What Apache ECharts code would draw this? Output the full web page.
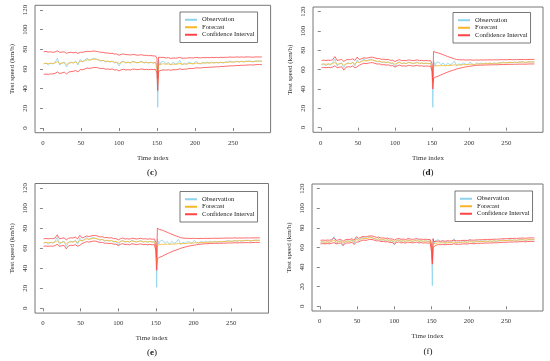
<!DOCTYPE html>
<html><head><meta charset="utf-8">
<script src="https://cdn.jsdelivr.net/npm/echarts@6/dist/echarts.min.js"></script>
<style>html,body{margin:0;padding:0;background:#fff}#chart{width:550px;height:361px}</style>
</head><body><div id="chart"></div>
<script>
const timeIndex = [1,4,7,10,13,16,19,22,25,28,31,34,37,40,43,46,49,52,55,58,61,64,67,70,73,76,79,82,85,88,91,94,97,100,103,106,109,112,115,118,121,124,127,130,133,136,139,142,145,
148,149,150,151,152,153,154,155,156,
159,162,165,168,171,174,177,180,183,186,189,192,195,198,201,204,207,210,213,216,219,222,225,228,231,234,237,240,243,246,249,252,255,258,261,264,267,270,273,276,279,282,285,288];

const observation = [65,66,64,66,65,67,71,64,66,67,62,66,67,66,68,64,70,67,69,71,69,70,71,70,69,68,69,67,68,67,68,66,67,63,67,68,66,67,66,68,67,66,67,68,66,67,66,67,66,
67,65,60,21,69,68,64,67,66,
68,65,67,64,67,65,66,69,64,66,65,67,66,65,68,66,65,67,66,67,66,67,66,67,66,67,66,67,67,68,67,67,68,67,68,67,68,68,68,67,68,68,68,68];

/* panel (c) */
const forecastC = [65.5,65.8,65.5,65.8,65.6,66.2,67.5,65.5,66,66.5,64.5,66,66.5,66.3,67.2,65.5,68,67.5,68.5,69.5,69,69.5,70,70,69.3,68.5,68.8,67.8,68,67.5,67.8,66.8,67,65.5,66.8,67.5,66.5,66.8,66.3,67.3,67,66.5,66.8,67.3,66.5,66.8,66.3,66.7,66.3,
66.5,65.8,63,44,64,65,64.5,65,65,
65.3,64.8,65.2,64.5,65,64.8,65,65.8,64.8,65,65,65.5,65.5,65.3,66,65.8,65.6,66,66,66.2,66.1,66.4,66.3,66.5,66.4,66.7,66.6,66.8,66.9,67.2,67.1,67.2,67.5,67.3,67.6,67.4,67.7,67.8,67.8,67.6,67.9,68,68,68];
const upperC = [77.5,77.8,77.2,77.5,77,77.4,78.5,77,77.2,77.5,76,76.8,77,76.5,77,75.8,77,77,77.5,78,77.8,78,78.3,78,77.5,77,77,76.3,76.3,75.8,76,75.2,75.3,74,75,75.3,74.6,74.6,74.2,74.8,74.5,74,74.2,74.5,73.8,74,73.5,73.7,73.3,
73.3,72.8,71,50,72,72,71.5,71.8,71.6,
71.8,71.2,71.5,70.8,71.2,71,71.2,71.8,70.9,71.1,71,71.4,71.4,71.2,71.8,71.5,71.3,71.6,71.5,71.7,71.5,71.8,71.6,71.8,71.6,71.9,71.7,71.9,71.9,72.2,72,72,72.3,72,72.3,72,72.3,72.3,72.2,72,72.2,72.3,72.2,72.2];
const lowerC = [54.5,54.8,54.5,55,55,55.6,57,55.4,56,56.8,55,56.8,57.5,57.6,58.5,57,59.5,59.2,60,61,60.6,61,61.5,61.6,61,60.4,60.8,59.8,60,59.6,60,59,59.3,58,59.2,59.8,59,59.3,59,59.9,59.7,59.3,59.6,60.1,59.4,59.7,59.3,59.7,59.4,
59.6,59,56,38,57.5,58.5,58,58.6,58.7,
59.1,58.8,59.3,58.7,59.3,59.2,59.5,60.3,59.5,59.8,59.9,60.5,60.6,60.5,61.2,61.1,61,61.4,61.5,61.7,61.7,62,62,62.3,62.2,62.6,62.5,62.8,62.9,63.2,63.2,63.3,63.6,63.5,63.8,63.7,64,64.1,64.2,64,64.3,64.5,64.5,64.5];

/* panel (d) */
const forecastD = [65.5,65.8,65.5,65.8,65.6,66.2,67.5,65.5,66,66.5,64.5,66,66.5,66.3,67.2,65.5,68,67.5,68.5,69.5,69,69.5,70,70,69.3,68.5,68.8,67.8,68,67.5,67.8,66.8,67,65.5,66.8,67.5,66.5,66.8,66.3,67.3,67,66.5,66.8,67.3,66.5,66.8,66.3,66.7,66.3,
66.5,65.8,62,45,63.5,64,63.8,64,64,
64.2,64,64.3,64,64.4,64.3,64.5,65,64.6,64.8,64.8,65.2,65.2,65.1,65.7,65.5,65.4,65.8,65.8,66,66,66.3,66.2,66.5,66.4,66.7,66.6,66.8,66.9,67.2,67.1,67.2,67.5,67.3,67.6,67.4,67.7,67.8,67.8,67.6,67.9,68,68,68];
const upperD = [69.5,69.8,69.5,69.8,69.6,70.2,73.5,69.5,70,70.5,68.5,70,70.5,70.3,71.2,69.5,73,70.3,71.3,72.3,71.8,72.3,72.8,72.8,72.1,71.3,71.6,70.6,70.8,70.3,70.6,69.6,69.8,68.3,69.6,70.3,69.3,69.6,69.1,70.1,69.8,69.3,69.6,70.1,69.3,69.6,69.1,69.5,69.1,
69.3,68.6,66,48,79,78.6,78.2,77.8,77.5,
77.2,76.3,75.4,74.5,73.6,72.8,72,71.2,70.5,70.3,70.1,70.2,69.9,70,70.2,69.9,69.8,70,69.9,70.1,69.9,70.1,70,70.2,70,70.2,70.1,70.2,70.3,70.4,70.3,70.3,70.5,70.3,70.5,70.3,70.5,70.5,70.5,70.4,70.5,70.6,70.6,70.6];
const lowerD = [62,62.3,62,62.3,62.1,62.7,64,62,62.5,63,59.5,62.5,63,62.8,63.7,62,63,64.7,65.7,66.7,66.2,66.7,67.2,67.2,66.5,65.7,66,65,65.2,64.7,65,64,64.2,62.7,64,64.7,63.7,64,63.5,64.5,64.2,63.7,64,64.5,63.7,64,63.5,63.9,63.5,
63.7,63,58,40,51,51.5,52,52.4,52.8,
53.5,54.6,55.6,56.6,57.5,58.3,59.1,59.8,60.6,61.2,61.8,62.3,62.8,63.2,63.6,63.9,64.2,64.5,64.5,64.7,64.6,64.9,64.8,65,64.9,65.1,65,65.2,65.2,65.4,65.3,65.4,65.6,65.4,65.6,65.5,65.7,65.7,65.7,65.6,65.8,65.9,65.9,65.9];

/* panel (e) */
const forecastE = [65.5,65.8,65.5,65.8,65.6,66.2,67.5,65.5,66,66.5,64.5,66,66.5,66.3,67.2,65.5,68,67.5,68.5,69.5,69,69.5,70,70,69.3,68.5,68.8,67.8,68,67.5,67.8,66.8,67,65.5,66.8,67.5,66.5,66.8,66.3,67.3,67,66.5,66.8,67.3,66.5,66.8,66.3,66.7,66.3,
66.5,65.8,62,44,63,63.5,63.5,63.8,64,
64,64,64.2,64,64.3,64.2,64.4,64.9,64.5,64.7,64.8,65.1,65.2,65.1,65.6,65.5,65.4,65.8,65.8,66,66,66.3,66.2,66.5,66.4,66.7,66.6,66.8,66.9,67.2,67.1,67.2,67.5,67.3,67.6,67.4,67.7,67.8,67.8,67.6,67.9,68,68,68];
const upperE = [69.5,69.8,69.5,69.8,69.6,70.2,73.5,69.5,70,70.5,68.5,70,70.5,70.3,71.2,69.5,73,70.3,71.3,72.3,71.8,72.3,72.8,72.8,72.1,71.3,71.6,70.6,70.8,70.3,70.6,69.6,69.8,68.3,69.6,70.3,69.3,69.6,69.1,70.1,69.8,69.3,69.6,70.1,69.3,69.6,69.1,69.5,69.1,
69.3,68.6,66,50,80,79.6,79.2,78.8,78.4,
78,77,76,75,74.1,73.2,72.3,71.5,70.6,70.2,70,70,69.8,69.9,70,69.8,69.7,69.9,69.8,70,69.8,70,69.9,70.1,69.9,70.1,70,70.1,70.2,70.3,70.2,70.2,70.4,70.2,70.4,70.2,70.4,70.4,70.4,70.3,70.4,70.5,70.5,70.5];
const lowerE = [62,62.3,62,62.3,62.1,62.7,64,62,62.5,63,59.5,62.5,63,62.8,63.7,62,63,64.7,65.7,66.7,66.2,66.7,67.2,67.2,66.5,65.7,66,65,65.2,64.7,65,64,64.2,62.7,64,64.7,63.7,64,63.5,64.5,64.2,63.7,64,64.5,63.7,64,63.5,63.9,63.5,
63.7,63,57,38,49.5,50,50.5,51,51.4,
52.3,53.5,54.6,55.6,56.6,57.5,58.3,59.1,60,60.7,61.3,61.9,62.4,62.8,63.2,63.6,63.9,64.2,64.4,64.6,64.6,64.9,64.8,65,64.9,65.1,65,65.2,65.2,65.4,65.3,65.4,65.6,65.4,65.6,65.5,65.7,65.7,65.7,65.6,65.8,65.9,65.9,65.9];

/* panel (f) */
const forecastF = [65.5,65.8,65.5,65.8,65.6,66.2,67.5,65.5,66,66.5,64.5,66,66.5,66.3,67.2,65.5,68,67.5,68.5,69.5,69,69.5,70,70,69.3,68.5,68.8,67.8,68,67.5,67.8,66.8,67,65.5,66.8,67.5,66.5,66.8,66.3,67.3,67,66.5,66.8,67.3,66.5,66.8,66.3,66.7,66.3,
66.5,65.5,60,45,64,63,63.5,64,64.3,
64.8,64.6,65,64.6,65,64.9,65,65.7,65,65.2,65.1,65.5,65.5,65.3,66,65.8,65.6,66,66,66.2,66.1,66.4,66.3,66.5,66.4,66.7,66.6,66.8,66.9,67.2,67.1,67.2,67.5,67.3,67.6,67.4,67.7,67.8,67.8,67.6,67.9,68,68,68];
const upperF = [67.3,67.6,67.3,67.6,67.4,68,70,67.3,67.8,68.3,66.3,67.8,68.3,68.1,69,67.3,71,69.3,70.3,71.3,70.8,71.3,71.8,71.8,71.1,70.3,70.6,69.6,69.8,69.3,69.6,68.6,68.8,67.5,68.6,69.3,68.3,68.6,68.1,69.1,68.8,68.3,68.6,69.1,68.3,68.6,68.1,68.5,68.1,
68.3,67.6,64,47,69,66,65.8,66,66.2,
66.6,66.4,66.8,66.4,66.8,66.7,66.8,67.5,66.8,67,66.9,67.3,67.3,67.1,67.8,67.6,67.4,67.8,67.8,68,67.9,68.2,68.1,68.3,68.2,68.5,68.4,68.6,68.7,69,68.9,69,69.3,69.1,69.4,69.2,69.5,69.6,69.6,69.4,69.7,69.8,69.8,69.8];
const lowerF = [63.7,64,63.7,64,63.8,64.4,65,63.7,64.2,64.7,62,64.2,64.7,64.5,65.4,63,65.5,65.7,66.7,67.7,67.2,67.7,68.2,68.2,67.5,66.7,67,66,66.2,65.7,66,65,65.2,63.5,65,65.7,64.7,65,64.5,65.5,65.2,64.7,65,65.5,64.7,65,64.5,64.9,64.5,
64.7,63.5,55,43,60,59.8,61,62,62.5,
63,62.8,63.2,62.8,63.2,63.1,63.2,63.9,63.2,63.4,63.3,63.7,63.7,63.5,64.2,64,63.8,64.2,64.2,64.4,64.3,64.6,64.5,64.7,64.6,64.9,64.8,65,65.1,65.4,65.3,65.4,65.7,65.5,65.8,65.6,65.9,66,66,65.8,66.1,66.2,66.2,66.2];

const xTicks = [0,50,100,150,200,250];
const yTicks = [0,20,40,60,80,100,120];
const seriesNames = ['Observation','Forecast','Confidence Interval'];
const xTitle = 'Time index';
const yTitle = 'Test speed (km/h)';

const FONT = '"Liberation Serif","DejaVu Serif",serif';
const COLORS = {obs:'#8dd3ee', fc:'#f7b628', ci:'#ff4545'};

const panels = [
  {label:'c', bold:true,  f:forecastC, u:upperC, l:lowerC, grid:{left:35,  top:5.3, width:235.6, height:127.4}, legend:{left:180, top:12},   tag:{x:152, y:173}},
  {label:'d', bold:true,  f:forecastD, u:upperD, l:lowerD, grid:{left:313, top:7,   width:230,   height:125.3}, legend:{left:453, top:12.5}, tag:{x:428, y:172.5}},
  {label:'e', bold:true,  f:forecastE, u:upperE, l:lowerE, grid:{left:35,  top:183.5,width:233.5,height:129.6}, legend:{left:180, top:191.5},tag:{x:152, y:353}},
  {label:'f', bold:false, f:forecastF, u:upperF, l:lowerF, grid:{left:312, top:184, width:231,   height:127},   legend:{left:455, top:191},  tag:{x:428, y:351.5}}
];

const pair = vals => timeIndex.map((t, i) => [t, vals[i]]);
const txt = {fontFamily: FONT, color: '#333'};

const option = {
  animation: false,
  backgroundColor: '#fff',
  grid: panels.map(p => Object.assign({show:true, borderColor:'#777', borderWidth:1, backgroundColor:'transparent', containLabel:false}, p.grid)),
  xAxis: panels.map((p, i) => ({
    type:'value', gridIndex:i, min:-10.5, max:299.5,
    axisLine:{show:false}, splitLine:{show:false},
    axisTick:{show:true, customValues:xTicks, length:3, lineStyle:{color:'#666', width:0.8}},
    axisLabel:Object.assign({customValues:xTicks, margin:7, fontSize:6.8}, txt),
    name:xTitle, nameLocation:'middle', nameGap:22,
    nameTextStyle:Object.assign({fontSize:7}, txt)
  })),
  yAxis: panels.map((p, i) => ({
    type:'value', gridIndex:i, min:-4.8, max:124.8,
    axisLine:{show:false}, splitLine:{show:false},
    axisTick:{show:true, customValues:yTicks, length:3, lineStyle:{color:'#666', width:0.8}},
    axisLabel:Object.assign({customValues:yTicks, margin:6, fontSize:6.8, rotate:90}, txt),
    name:yTitle, nameLocation:'middle', nameGap:19,
    nameTextStyle:Object.assign({fontSize:7}, txt)
  })),
  legend: panels.map(p => ({
    left:p.legend.left, top:p.legend.top, orient:'vertical',
    data:seriesNames, icon:'rect', itemWidth:12, itemHeight:2, itemGap:0,
    padding:[4,3,4,5], borderColor:'#555', borderWidth:0.8, backgroundColor:'#fff',
    textStyle:{fontFamily:FONT, fontSize:6.6, color:'#222', lineHeight:7.5},
    selectedMode:false
  })),
  graphic: panels.map(p => ({
    type:'text', x:p.tag.x, y:p.tag.y,
    style:{
      text: p.bold ? '({b|' + p.label + '})' : '(' + p.label + ')',
      fontFamily:FONT, fontSize:9, fill:'#111', align:'center', verticalAlign:'middle',
      rich:{b:{fontFamily:FONT, fontSize:9, fontWeight:'bold', fill:'#111'}}
    }
  })),
  series: []
};

panels.forEach((p, i) => {
  const base = {type:'line', xAxisIndex:i, yAxisIndex:i, showSymbol:false, symbol:'none', silent:true};
  option.series.push(Object.assign({}, base, {name:seriesNames[0], data:pair(observation), color:COLORS.obs, lineStyle:{width:0.8, color:COLORS.obs}}));
  option.series.push(Object.assign({}, base, {name:seriesNames[1], data:pair(p.f), color:COLORS.fc, lineStyle:{width:0.8, color:COLORS.fc}}));
  option.series.push(Object.assign({}, base, {name:seriesNames[2], data:pair(p.u), color:COLORS.ci, lineStyle:{width:0.8, color:COLORS.ci}}));
  option.series.push(Object.assign({}, base, {name:seriesNames[2], data:pair(p.l), color:COLORS.ci, lineStyle:{width:0.8, color:COLORS.ci}}));
});

const chart = echarts.init(document.getElementById('chart'), null, {renderer:'canvas'});
chart.setOption(option);
</script>
</body></html>
